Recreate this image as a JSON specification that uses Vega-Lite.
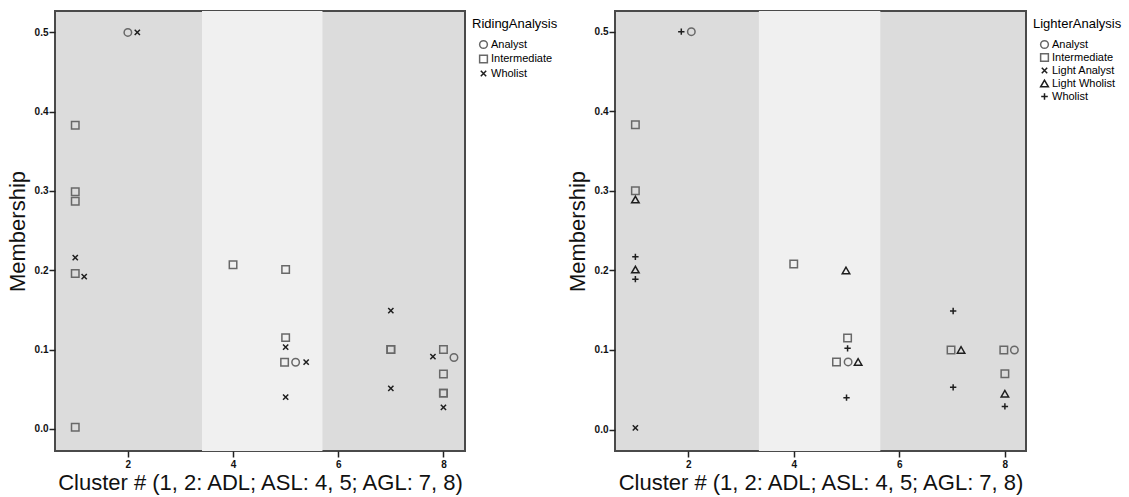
{
  "$schema": "https://vega.github.io/schema/vega-lite/v6.json",
  "background": "white",
  "padding": {"left": 5, "top": 10, "right": 5, "bottom": 5},
  "spacing": -1,
  "config": {
    "view": {"stroke": "#4a4a4a", "strokeWidth": 2, "fill": "#dcdcdc"},
    "font": "Liberation Sans",
    "axis": {
      "grid": false, "domain": false, "tickColor": "#222", "tickSize": 6, "tickWidth": 1.5,
      "labelFont": "Liberation Sans", "labelFontSize": 10, "labelFontWeight": "bold", "labelColor": "#111", "labelPadding": 1,
      "titleFont": "Liberation Sans", "titleFontSize": 22, "titleFontWeight": "normal", "titleColor": "#111"
    },
    "legend": {
      "orient": "right", "offset": 0, "padding": 7,
      "titleFont": "Liberation Sans", "titleFontSize": 13, "titleFontWeight": "normal", "titleColor": "#000", "titlePadding": 8,
      "labelFont": "Liberation Sans", "labelFontSize": 11, "labelColor": "#000", "labelOffset": 2,
      "symbolOffset": 6, "symbolSize": 60, "symbolStrokeWidth": 1.5, "clipHeight": 11
    }
  },
  "datasets": {
    "points": [
      {"panel": "Riding", "type": "Analyst", "cluster": 2.0, "membership": 0.5},
      {"panel": "Riding", "type": "Wholist", "cluster": 2.18, "membership": 0.5},
      {"panel": "Riding", "type": "Intermediate", "cluster": 1.0, "membership": 0.383},
      {"panel": "Riding", "type": "Intermediate", "cluster": 1.0, "membership": 0.299},
      {"panel": "Riding", "type": "Intermediate", "cluster": 1.0, "membership": 0.287},
      {"panel": "Riding", "type": "Wholist", "cluster": 1.0, "membership": 0.216},
      {"panel": "Riding", "type": "Intermediate", "cluster": 1.0, "membership": 0.196},
      {"panel": "Riding", "type": "Wholist", "cluster": 1.17, "membership": 0.192},
      {"panel": "Riding", "type": "Intermediate", "cluster": 1.0, "membership": 0.002},
      {"panel": "Riding", "type": "Intermediate", "cluster": 4.0, "membership": 0.207},
      {"panel": "Riding", "type": "Intermediate", "cluster": 5.0, "membership": 0.201},
      {"panel": "Riding", "type": "Intermediate", "cluster": 5.0, "membership": 0.115},
      {"panel": "Riding", "type": "Wholist", "cluster": 5.0, "membership": 0.103},
      {"panel": "Riding", "type": "Intermediate", "cluster": 4.98, "membership": 0.084},
      {"panel": "Riding", "type": "Analyst", "cluster": 5.19, "membership": 0.084},
      {"panel": "Riding", "type": "Wholist", "cluster": 5.39, "membership": 0.084},
      {"panel": "Riding", "type": "Wholist", "cluster": 5.0, "membership": 0.04},
      {"panel": "Riding", "type": "Wholist", "cluster": 7.0, "membership": 0.149},
      {"panel": "Riding", "type": "Intermediate", "cluster": 7.0, "membership": 0.1},
      {"panel": "Riding", "type": "Intermediate", "cluster": 7.0, "membership": 0.1},
      {"panel": "Riding", "type": "Wholist", "cluster": 7.0, "membership": 0.051},
      {"panel": "Riding", "type": "Wholist", "cluster": 7.8, "membership": 0.091},
      {"panel": "Riding", "type": "Intermediate", "cluster": 8.0, "membership": 0.1},
      {"panel": "Riding", "type": "Analyst", "cluster": 8.2, "membership": 0.09},
      {"panel": "Riding", "type": "Intermediate", "cluster": 8.0, "membership": 0.069},
      {"panel": "Riding", "type": "Intermediate", "cluster": 8.0, "membership": 0.045},
      {"panel": "Riding", "type": "Intermediate", "cluster": 8.0, "membership": 0.045},
      {"panel": "Riding", "type": "Wholist", "cluster": 8.0, "membership": 0.027},
      {"panel": "Lighter", "type": "Wholist", "cluster": 1.87, "membership": 0.5},
      {"panel": "Lighter", "type": "Analyst", "cluster": 2.06, "membership": 0.5},
      {"panel": "Lighter", "type": "Intermediate", "cluster": 1.0, "membership": 0.383},
      {"panel": "Lighter", "type": "Intermediate", "cluster": 1.0, "membership": 0.3},
      {"panel": "Lighter", "type": "Light Wholist", "cluster": 1.0, "membership": 0.289},
      {"panel": "Lighter", "type": "Wholist", "cluster": 1.0, "membership": 0.217},
      {"panel": "Lighter", "type": "Light Wholist", "cluster": 1.0, "membership": 0.201},
      {"panel": "Lighter", "type": "Wholist", "cluster": 1.0, "membership": 0.189},
      {"panel": "Lighter", "type": "Light Analyst", "cluster": 1.0, "membership": 0.002},
      {"panel": "Lighter", "type": "Intermediate", "cluster": 4.0, "membership": 0.208},
      {"panel": "Lighter", "type": "Light Wholist", "cluster": 4.99, "membership": 0.2},
      {"panel": "Lighter", "type": "Intermediate", "cluster": 5.02, "membership": 0.115},
      {"panel": "Lighter", "type": "Wholist", "cluster": 5.02, "membership": 0.102},
      {"panel": "Lighter", "type": "Intermediate", "cluster": 4.81, "membership": 0.085},
      {"panel": "Lighter", "type": "Analyst", "cluster": 5.03, "membership": 0.085},
      {"panel": "Lighter", "type": "Light Wholist", "cluster": 5.22, "membership": 0.085},
      {"panel": "Lighter", "type": "Wholist", "cluster": 5.0, "membership": 0.04},
      {"panel": "Lighter", "type": "Wholist", "cluster": 7.02, "membership": 0.149},
      {"panel": "Lighter", "type": "Intermediate", "cluster": 6.98, "membership": 0.1},
      {"panel": "Lighter", "type": "Light Wholist", "cluster": 7.17, "membership": 0.1},
      {"panel": "Lighter", "type": "Wholist", "cluster": 7.02, "membership": 0.053},
      {"panel": "Lighter", "type": "Intermediate", "cluster": 7.98, "membership": 0.1},
      {"panel": "Lighter", "type": "Analyst", "cluster": 8.18, "membership": 0.1},
      {"panel": "Lighter", "type": "Intermediate", "cluster": 8.0, "membership": 0.07},
      {"panel": "Lighter", "type": "Light Wholist", "cluster": 8.0, "membership": 0.045},
      {"panel": "Lighter", "type": "Wholist", "cluster": 8.0, "membership": 0.029}
    ],
    "bands": [
      {"panel": "Riding", "start": 3.41, "end": 5.7},
      {"panel": "Lighter", "start": 3.34, "end": 5.64}
    ]
  },
  "resolve": {"scale": {"x": "independent", "y": "independent", "shape": "independent", "stroke": "independent"}, "legend": {"shape": "independent", "stroke": "independent"}},
  "hconcat": [
    {
      "width": 410, "height": 440,
      "layer": [
        {
          "data": {"name": "bands"},
          "transform": [{"filter": "datum.panel === 'Riding'"}],
          "mark": {"type": "rect", "fill": "#f0f0f0"},
          "encoding": {
            "x": {"field": "start", "type": "quantitative", "scale": {"domain": [0.615, 8.41], "nice": false, "zero": false}, "title": "Cluster # (1, 2: ADL; ASL: 4, 5; AGL: 7, 8)", "axis": {"values": [2, 4, 6, 8], "format": "d", "labelPadding": 2, "titlePadding": 3}},
            "x2": {"field": "end"},
            "y": {"datum": 0.527, "type": "quantitative", "scale": {"domain": [-0.028, 0.527], "nice": false, "zero": false}, "title": "Membership", "axis": {"values": [0, 0.1, 0.2, 0.3, 0.4, 0.5], "format": ".1f", "titlePadding": 5}},
            "y2": {"datum": -0.028}
          }
        },
        {
          "data": {"name": "points"},
          "transform": [{"filter": "datum.panel === 'Riding'"}],
          "mark": {"type": "point", "filled": false, "size": 56, "strokeWidth": 1.5, "opacity": 1},
          "encoding": {
            "x": {"field": "cluster", "type": "quantitative", "title": "Cluster # (1, 2: ADL; ASL: 4, 5; AGL: 7, 8)"},
            "y": {"field": "membership", "type": "quantitative", "title": "Membership"},
            "shape": {"field": "type", "type": "nominal", "title": "RidingAnalysis",
              "scale": {"domain": ["Analyst", "Intermediate", "Wholist"], "range": ["circle", "square", "M-0.7,-0.7L0.7,0.7M-0.7,0.7L0.7,-0.7"]},
              "legend": {"rowPadding": 2.5, "encode": {"symbols": {"update": {"stroke": {"value": "#000"}, "strokeWidth": {"value": 1.5}}}}}},
            "stroke": {"field": "type", "type": "nominal", "legend": null,
              "scale": {"domain": ["Analyst", "Intermediate", "Wholist"], "range": ["#686868", "#686868", "#1e1e1e"]}}
          }
        }
      ]
    },
    {
      "width": 411, "height": 440,
      "layer": [
        {
          "data": {"name": "bands"},
          "transform": [{"filter": "datum.panel === 'Lighter'"}],
          "mark": {"type": "rect", "fill": "#f0f0f0"},
          "encoding": {
            "x": {"field": "start", "type": "quantitative", "scale": {"domain": [0.614, 8.4], "nice": false, "zero": false}, "title": "Cluster # (1, 2: ADL; ASL: 4, 5; AGL: 7, 8)", "axis": {"values": [2, 4, 6, 8], "format": "d", "labelPadding": 2, "titlePadding": 3}},
            "x2": {"field": "end"},
            "y": {"datum": 0.526, "type": "quantitative", "scale": {"domain": [-0.027, 0.526], "nice": false, "zero": false}, "title": "Membership", "axis": {"values": [0, 0.1, 0.2, 0.3, 0.4, 0.5], "format": ".1f", "titlePadding": 5}},
            "y2": {"datum": -0.027}
          }
        },
        {
          "data": {"name": "points"},
          "transform": [{"filter": "datum.panel === 'Lighter'"}],
          "mark": {"type": "point", "filled": false, "size": 56, "strokeWidth": 1.5, "opacity": 1},
          "encoding": {
            "x": {"field": "cluster", "type": "quantitative", "title": "Cluster # (1, 2: ADL; ASL: 4, 5; AGL: 7, 8)"},
            "y": {"field": "membership", "type": "quantitative", "title": "Membership"},
            "shape": {"field": "type", "type": "nominal", "title": "LighterAnalysis",
              "scale": {"domain": ["Analyst", "Intermediate", "Light Analyst", "Light Wholist", "Wholist"], "range": ["circle", "square", "M-0.7,-0.7L0.7,0.7M-0.7,0.7L0.7,-0.7", "triangle-up", "M-0.85,0L0.85,0M0,-0.85L0,0.85"]},
              "legend": {"rowPadding": 1, "encode": {"symbols": {"update": {"stroke": {"value": "#000"}, "strokeWidth": {"value": 1.5}}}}}},
            "stroke": {"field": "type", "type": "nominal", "legend": null,
              "scale": {"domain": ["Analyst", "Intermediate", "Light Analyst", "Light Wholist", "Wholist"], "range": ["#686868", "#686868", "#1e1e1e", "#1e1e1e", "#1e1e1e"]}}
          }
        }
      ]
    }
  ]
}
